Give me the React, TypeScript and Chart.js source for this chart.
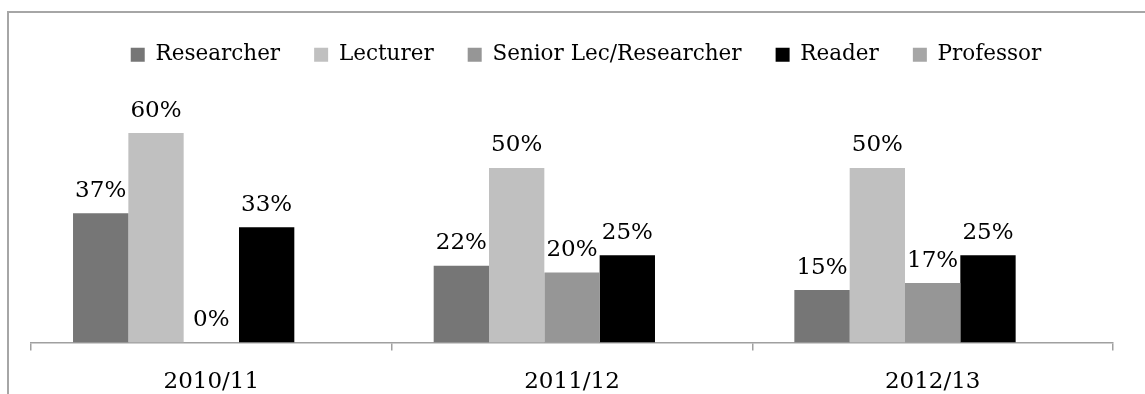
import React, { useEffect, useRef } from "react";
import { Chart, registerables } from "chart.js";

Chart.register(...registerables);

const categories = ["2010/11", "2011/12", "2012/13"];
const seriesNames = ["Researcher", "Lecturer", "Senior Lec/Researcher", "Reader", "Professor"];
const researcher = [37, 22, 15];
const lecturer = [60, 50, 50];
const seniorLec = [0, 20, 17];
const reader = [33, 25, 25];
const professor: (number | null)[] = [null, null, null];
const seriesColors = ["#767676", "#c0c0c0", "#969696", "#000000", "#a6a6a6"];

const FONT = '"DejaVu Serif", serif';

const valueLabels = {
  id: "valueLabels",
  afterDatasetsDraw(chart: any) {
    const ctx = chart.ctx;
    ctx.save();
    ctx.font = `23px ${FONT}`;
    ctx.fillStyle = "#000";
    ctx.textAlign = "center";
    ctx.textBaseline = "alphabetic";
    chart.data.datasets.forEach((ds: any, di: number) => {
      const meta = chart.getDatasetMeta(di);
      meta.data.forEach((el: any, i: number) => {
        const v = ds.data[i];
        if (v === null || v === undefined) return;
        ctx.fillText(`${v}%`, el.x, el.y - 16.5);
      });
    });
    ctx.restore();
  },
};

const legendShift = {
  id: "legendShift",
  afterLayout(chart: any) {
    if (chart.legend) {
      chart.legend.left += 14;
      chart.legend.right += 14;
    }
  },
};

export default function App() {
  const ref = useRef<HTMLCanvasElement>(null);
  useEffect(() => {
    const values = [researcher, lecturer, seniorLec, reader, professor];
    const chart = new Chart(ref.current as HTMLCanvasElement, {
      type: "bar",
      data: {
        labels: categories,
        datasets: seriesNames.map((name, i) => ({
          label: name,
          data: values[i],
          backgroundColor: seriesColors[i],
          borderWidth: 0,
          categoryPercentage: 0.767,
          barPercentage: 1,
        })),
      },
      options: {
        responsive: false,
        animation: false,
        layout: { padding: { top: -3, left: 22, right: 32, bottom: -20 } },
        plugins: {
          tooltip: { enabled: false },
          legend: {
            position: "top",
            labels: {
              boxWidth: 14,
              boxHeight: 14,
              padding: 34,
              color: "#000",
              font: { family: FONT, size: 21.5 },
            },
          },
        },
        scales: {
          x: {
            offset: true,
            grid: {
              offset: true,
              drawOnChartArea: false,
              drawTicks: true,
              tickLength: 8,
              color: "#a0a0a0",
              lineWidth: 1.5,
            },
            border: { display: true, color: "#a0a0a0", width: 1.5 },
            ticks: { color: "#000", padding: 18, font: { family: FONT, size: 23 } },
          },
          y: {
            display: false,
            min: 0,
            max: 76.5,
          },
        },
      },
      plugins: [valueLabels, legendShift],
    });
    return () => chart.destroy();
  }, []);
  return (
    <div
      style={{
        position: "absolute",
        left: 7,
        top: 11,
        width: 1138,
        height: 383,
        boxSizing: "border-box",
        borderLeft: "2px solid #a6a6a6",
        borderTop: "2px solid #a6a6a6",
        overflow: "hidden",
      }}
    >
      <canvas ref={ref} width={1136} height={381} style={{ display: "block" }} />
    </div>
  );
}
